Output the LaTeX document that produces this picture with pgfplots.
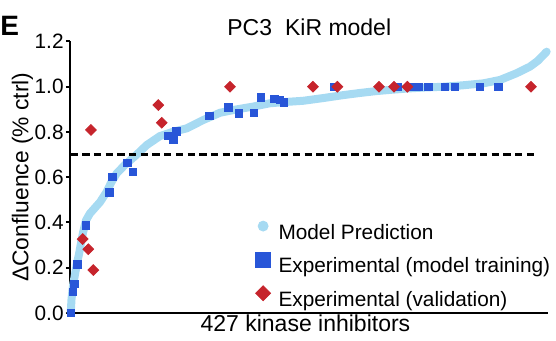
\documentclass[border=0pt]{standalone}
\usepackage{fontspec}
\setmainfont{Liberation Sans}
\usepackage{pgfplots}
\pgfplotsset{compat=1.18}
\definecolor{modelblue}{RGB}{166,218,242}
\definecolor{expblue}{RGB}{40,86,216}
\definecolor{valred}{RGB}{198,36,44}
\begin{document}
\begin{tikzpicture}
\begin{axis}[
  name=ax,
  scale only axis, width=238.75pt, height=135.75pt,
  xmin=0, xmax=427, ymin=0, ymax=1.2,
  clip=false,
  axis lines*=left,
  axis line style={line width=1pt, black},
  xtick=\empty,
  ytick={0,0.2,0.4,0.6,0.8,1.0,1.2},
  /pgf/number format/assume math mode=true,
  yticklabel style={/pgf/number format/fixed, /pgf/number format/precision=1, /pgf/number format/fixed zerofill, inner sep=1pt},
  tick label style={font=\fontsize{10.4}{12}\selectfont},
  major tick length=2.25pt, tick align=outside,
  tick style={line width=1pt, black},
  xlabel={427 kinase inhibitors},
  xlabel style={at={(axis description cs:0.5,0)}, anchor=base, yshift=-9.35pt, xshift=-1.9pt, font=\fontsize{11.5}{13}\selectfont},
  ylabel={ΔConfluence (\% ctrl)},
  ylabel style={at={(axis description cs:-0.088,0.5)}, anchor=base, font=\fontsize{11.4}{13}\selectfont},
  title={PC3\hspace{6.5pt}KiR model},
  title style={at={(axis description cs:0.5,1)}, anchor=base, yshift=-3pt, font=\fontsize{11.5}{13}\selectfont},
  legend style={draw=none, fill=none, at={(axis cs:165.2,0.408)}, anchor=north west, inner sep=0pt, outer sep=0pt,
    column sep=3.75pt, row sep=3.75pt, font=\fontsize{10.4}{12}\selectfont,
    nodes={inner sep=0pt, text height=8pt, text depth=2.5pt}},
  legend cell align=left,
]
\addplot[modelblue, line width=4pt, line cap=round, line join=round, forget plot] coordinates {
(0.2,0.0) (0.9,0.06) (2.2,0.12) (4.0,0.17) (5.8,0.22) (7.6,0.26) (9.4,0.31) (11.4,0.36) (13.9,0.41) (17.4,0.44) (21.9,0.465) (26.4,0.49) (32.4,0.536) (36.2,0.575) (41.3,0.617) (48.7,0.655) (59.2,0.70) (68.1,0.742) (80.0,0.782) (91,0.80) (103.9,0.816) (118.7,0.853) (133.7,0.885) (148.6,0.90) (163,0.912) (178.4,0.927) (193,0.933) (208.2,0.938) (226,0.95) (243.9,0.963) (258,0.972) (273.8,0.981) (288,0.987) (303.6,0.993) (318,0.997) (333.4,1.0) (350,1.006) (369.1,1.015) (384.1,1.03) (399,1.06) (410.9,1.089) (418,1.115) (425.8,1.155)
};
\addplot[black, line width=1.8pt, dash pattern=on 3.65pt off 2.2pt, forget plot] coordinates {(0,0.7) (417,0.7)};
\addplot[only marks, mark=square*, mark size=1.9pt, color=expblue, forget plot] coordinates {
(0.2,0.0) (2.0,0.093) (3.4,0.128) (6.4,0.215) (13.6,0.386) (34.7,0.532) (37.4,0.602) (50.8,0.664) (55.9,0.623) (87.5,0.782) (91.9,0.768) (94.8,0.803) (124.1,0.871) (141.1,0.909) (150.7,0.883) (164.1,0.885) (170.1,0.953) (182.2,0.946) (187.3,0.941) (190.9,0.931) (235.6,1.0) (292.8,1.0) (303.5,1.0) (311,1.0) (319.9,1.0) (334.9,1.0) (343.8,1.0) (366.2,1.0) (382.6,1.0)
};
\addplot[only marks, mark=square*, mark size=1.9pt, mark options={rotate=45}, color=valred, forget plot] coordinates {
(10.9,0.327) (15.9,0.282) (20.4,0.19) (18.3,0.809) (78.5,0.919) (81.6,0.841) (142.6,1.0) (216.8,1.0) (238.6,1.0) (275.9,1.0) (289.3,1.0) (301.2,1.0) (411.8,1.0)
};
\addlegendimage{legend image code/.code={\fill[modelblue] (0pt,3.85pt) circle (2.5pt);}}
\addlegendentry{Model Prediction}
\addlegendimage{legend image code/.code={\fill[expblue] (-3.75pt,0.1pt) rectangle (3.75pt,7.6pt);}}
\addlegendentry{Experimental (model training)}
\addlegendimage{legend image code/.code={\fill[valred] (0pt,0.1pt) -- (3.75pt,3.85pt) -- (0pt,7.6pt) -- (-3.75pt,3.85pt) -- cycle;}}
\addlegendentry{Experimental (validation)}
\end{axis}
\node[anchor=base west, inner sep=0pt, font=\bfseries\fontsize{14}{16}\selectfont] at ([shift={(-35.25pt,3pt)}]ax.north west) {E};
\pgfresetboundingbox
\path[use as bounding box] ([shift={(-35.25pt,-14pt)}]ax.south west) rectangle ([shift={(4pt,20.75pt)}]ax.north east);
\end{tikzpicture}
\end{document}
